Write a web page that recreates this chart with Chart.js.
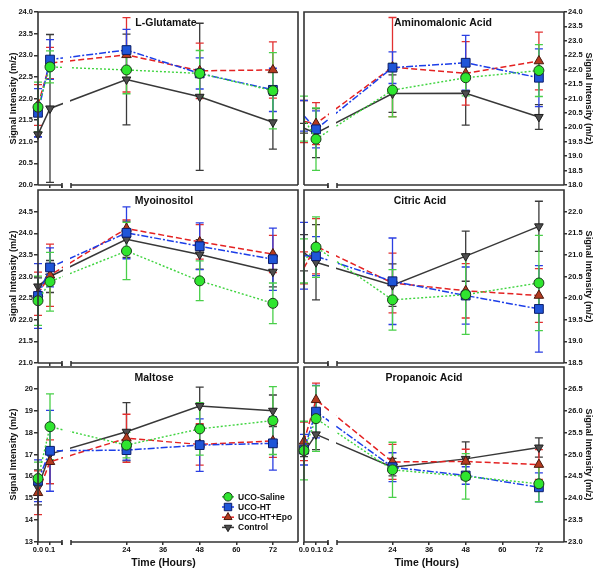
<!DOCTYPE html>
<html><head><meta charset="utf-8">
<script src="https://cdn.jsdelivr.net/npm/chart.js@4/dist/chart.umd.min.js"></script>
<style>
html,body{margin:0;padding:0;background:#fff;}
#wrap{position:relative;width:603px;height:579px;overflow:hidden;}
canvas{position:absolute;left:0;top:0;}
</style></head><body><div id="wrap">
<canvas id="c0" width="603" height="579"></canvas>
<canvas id="c1" width="603" height="579"></canvas>
<canvas id="c2" width="603" height="579"></canvas>
<canvas id="c3" width="603" height="579"></canvas>
<canvas id="c4" width="603" height="579"></canvas>
<canvas id="c5" width="603" height="579"></canvas>
</div>
<script>
// ---------------- DATA ----------------
const hours = [0, 0.1, 24, 48, 72];
const seriesNames = ['UCO-Saline', 'UCO-HT', 'UCO-HT+Epo', 'Control'];

// L-Glutamate
const gluSaline = [21.80, 22.73, 22.66, 22.58, 22.18];
const gluSalineSD = [0.58, 0.37, 0.55, 0.53, 0.88];
const gluHT = [21.67, 22.90, 23.12, 22.58, 22.20];
const gluHTSD = [0.56, 0.46, 0.48, 0.36, 0.50];
const gluEpo = [21.85, 22.82, 23.01, 22.64, 22.66];
const gluEpoSD = [0.47, 0.36, 0.86, 0.64, 0.65];
const gluCtrl = [21.17, 21.77, 22.44, 22.04, 21.45];
const gluCtrlSD = [0.05, 1.71, 1.05, 1.70, 0.62];

// Aminomalonic Acid
const amiSaline = [20.30, 19.59, 21.29, 21.72, 21.97];
const amiSalineSD = [0.78, 1.08, 0.93, 0.63, 0.90];
const amiHT = [20.40, 19.93, 22.07, 22.24, 21.72];
const amiHTSD = [0.53, 0.64, 0.55, 0.95, 1.00];
const amiEpo = [20.20, 20.13, 22.09, 21.87, 22.30];
const amiEpoSD = [0.73, 0.73, 1.72, 1.10, 1.00];
const amiCtrl = [19.97, 19.80, 21.17, 21.18, 20.36];
const amiCtrlSD = [0.17, 0.85, 0.65, 1.10, 0.43];

// Myoinositol
const myoSaline = [22.44, 22.88, 23.59, 22.90, 22.38];
const myoSalineSD = [0.57, 0.68, 0.66, 0.46, 0.47];
const myoHT = [22.55, 23.21, 24.01, 23.70, 23.40];
const myoHTSD = [0.75, 0.45, 0.60, 0.54, 0.72];
const myoEpo = [22.60, 23.03, 24.11, 23.80, 23.52];
const myoEpoSD = [0.50, 0.72, 0.20, 0.40, 0.43];
const myoCtrl = [22.77, 23.00, 23.86, 23.51, 23.11];
const myoCtrlSD = [0.20, 0.37, 0.42, 0.34, 0.35];

// Citric Acid
const citSaline = [20.86, 21.18, 19.96, 20.08, 20.35];
const citSalineSD = [0.51, 0.70, 0.70, 0.92, 1.10];
const citHT = [20.98, 20.97, 20.39, 20.06, 19.75];
const citHTSD = [0.77, 0.45, 1.00, 0.66, 1.00];
const citEpo = [20.70, 21.20, 20.35, 20.17, 20.06];
const citEpoSD = [0.37, 0.64, 0.69, 0.63, 0.62];
const citCtrl = [21.05, 20.83, 20.30, 20.97, 21.66];
const citCtrlSD = [0.42, 0.87, 0.49, 0.58, 0.58];

// Maltose
const malSaline = [15.90, 18.27, 17.43, 18.17, 18.55];
const malSalineSD = [0.75, 1.50, 0.58, 1.20, 1.55];
const malHT = [15.80, 17.17, 17.20, 17.43, 17.51];
const malHTSD = [0.95, 1.85, 0.46, 1.20, 1.22];
const malEpo = [15.25, 16.67, 17.74, 17.46, 17.62];
const malEpoSD = [1.00, 1.00, 1.10, 0.95, 0.75];
const malCtrl = [15.50, 17.02, 18.04, 19.22, 19.00];
const malCtrlSD = [0.80, 1.35, 1.33, 0.86, 0.72];

// Propanoic Acid
const proSaline = [25.09, 25.82, 24.65, 24.50, 24.33];
const proSalineSD = [0.67, 0.75, 0.63, 0.52, 0.41];
const proHT = [25.11, 25.98, 24.71, 24.52, 24.25];
const proHTSD = [0.35, 0.60, 0.33, 0.20, 0.33];
const proEpo = [25.30, 26.25, 24.83, 24.84, 24.77];
const proEpoSD = [0.44, 0.38, 0.40, 0.28, 0.34];
const proCtrl = [25.05, 25.46, 24.71, 24.90, 25.16];
const proCtrlSD = [0.10, 0.35, 0.20, 0.39, 0.22];

// x-axis tick hours / labels
const xTickHoursBottom = [0, 0.1, 0.2, 24, 36, 48, 60, 72];
const xTickLabelsBottomLeft = ['0.0', '0.1', '', '24', '36', '48', '60', '72'];
const xTickLabelsBottomRight = ['0.0', '0.1', '0.2', '24', '36', '48', '60', '72'];
const xTickHoursUpperLeft = [0.1, 0.2];
const xTickHoursUpperRight = [0.2];

// ---------------- STYLE / LAYOUT ----------------
const FONT = '"Liberation Sans", Arial, Helvetica, sans-serif';
Chart.defaults.font.family = FONT;
Chart.defaults.font.weight = 'bold';
Chart.defaults.color = '#111';

// broken time axis: hours -> axis units
function u(t) { return t <= 0.2 ? 120 * t : 88.5 + (t - 24) * 3.05; }
const SEG1_END = u(0.2), SEG2_START = 33, X_MAX = 260;

const styles = [
  {line:'#3fd43f', dash:[2,2], lw:1.4, shape:'circle', rot:0, r:5, fill:'#2fe52f', edge:'#1c3a1c', err:'#49cf49'},
  {line:'#1c3ee8', dash:[7,2,2,2], lw:1.5, shape:'rect', rot:0, r:6.2, fill:'#1f55d8', edge:'#0c1c6a', err:'#2b3fe2'},
  {line:'#e42222', dash:[6,3], lw:1.5, shape:'triangle', rot:0, r:5.5, fill:'#b43a1f', edge:'#4a1a0f', err:'#e23030'},
  {line:'#383838', dash:[], lw:1.5, shape:'triangle', rot:180, r:5, fill:'#4e4e4e', edge:'#1e1e1e', err:'#3a3a3a'}
];

const COLS = [{left:38, right:298, pos:'left', axisW:38, tick:4},
              {left:304, right:564, pos:'right', axisW:39, tick:3}];
const ROWS = [{top:12, bottom:185}, {top:190, bottom:363}, {top:367, bottom:542}];
const W = 603, H = 579;

const panels = [
  {canvas:'c0', name:'L-Glutamate', col:0, row:0, yMin:20, yMax:24, yTop:24, step:0.5, dec:1,
   means:[gluSaline, gluHT, gluEpo, gluCtrl], sds:[gluSalineSD, gluHTSD, gluEpoSD, gluCtrlSD], hideFirst:false, titleX:166},
  {canvas:'c1', name:'Aminomalonic Acid', col:1, row:0, yMin:18, yMax:24, yTop:24, step:0.5, dec:1,
   means:[amiSaline, amiHT, amiEpo, amiCtrl], sds:[amiSalineSD, amiHTSD, amiEpoSD, amiCtrlSD], hideFirst:true, titleX:443},
  {canvas:'c2', name:'Myoinositol', col:0, row:1, yMin:21, yMax:25, yTop:24.5, step:0.5, dec:1,
   means:[myoSaline, myoHT, myoEpo, myoCtrl], sds:[myoSalineSD, myoHTSD, myoEpoSD, myoCtrlSD], hideFirst:false, titleX:164},
  {canvas:'c3', name:'Citric Acid', col:1, row:1, yMin:18.5, yMax:22.5, yTop:22, step:0.5, dec:1,
   means:[citSaline, citHT, citEpo, citCtrl], sds:[citSalineSD, citHTSD, citEpoSD, citCtrlSD], hideFirst:true, titleX:420},
  {canvas:'c4', name:'Maltose', col:0, row:2, yMin:13, yMax:21, yTop:20, step:1, dec:0,
   means:[malSaline, malHT, malEpo, malCtrl], sds:[malSalineSD, malHTSD, malEpoSD, malCtrlSD], hideFirst:false, titleX:154,
   legend:{x:228, y:496.8, dy:10.2}, xTitle:{x:163.5, y:563}},
  {canvas:'c5', name:'Propanoic Acid', col:1, row:2, yMin:23, yMax:27, yTop:26.5, step:0.5, dec:1,
   means:[proSaline, proHT, proEpo, proCtrl], sds:[proSalineSD, proHTSD, proEpoSD, proCtrlSD], hideFirst:false, titleX:424,
   xTitle:{x:426.7, y:563}}
];

function drawMarker(ctx, st, x, y, r) {
  ctx.beginPath();
  if (st.shape === 'circle') {
    ctx.arc(x, y, r, 0, Math.PI * 2);
  } else if (st.shape === 'rect') {
    const s = r * Math.SQRT1_2;
    ctx.rect(x - s, y - s, 2 * s, 2 * s);
  } else {
    const d = st.rot ? -1 : 1;
    ctx.moveTo(x, y - r * d);
    ctx.lineTo(x + 0.866 * r, y + 0.5 * r * d);
    ctx.lineTo(x - 0.866 * r, y + 0.5 * r * d);
    ctx.closePath();
  }
  ctx.fillStyle = st.fill; ctx.fill();
  ctx.strokeStyle = st.edge; ctx.lineWidth = 1; ctx.stroke();
}

const errorBars = {
  id: 'errorBars',
  beforeDatasetsDraw(chart) {
    const ctx = chart.ctx, xs = chart.scales.x, ys = chart.scales.y;
    ctx.save();
    for (let i = chart.data.datasets.length - 1; i >= 0; i--) {
      const ds = chart.data.datasets[i];
      ctx.strokeStyle = ds.errColor; ctx.lineWidth = 1.3; ctx.setLineDash([]);
      ds.data.forEach((pt, k) => {
        const x = xs.getPixelForValue(pt.x);
        const y1 = ys.getPixelForValue(pt.y + ds.sd[k]);
        const y2 = ys.getPixelForValue(pt.y - ds.sd[k]);
        ctx.beginPath();
        ctx.moveTo(x, y1); ctx.lineTo(x, y2);
        ctx.moveTo(x - 4, y1); ctx.lineTo(x + 4, y1);
        ctx.moveTo(x - 4, y2); ctx.lineTo(x + 4, y2);
        ctx.stroke();
      });
    }
    ctx.restore();
  }
};

const frame = {
  id: 'frame',
  afterDatasetsDraw(chart) {
    const ctx = chart.ctx, a = chart.chartArea, xs = chart.scales.x;
    const g1 = xs.getPixelForValue(SEG1_END), g2 = xs.getPixelForValue(SEG2_START);
    ctx.save();
    ctx.fillStyle = '#fff';
    ctx.fillRect(g1 + 1, a.top + 1, g2 - g1 - 2, a.bottom - a.top - 2);
    ctx.restore();
  },
  afterDraw(chart, args, opts) {
    const ctx = chart.ctx, a = chart.chartArea, xs = chart.scales.x;
    const p = opts.panel;
    const g1 = xs.getPixelForValue(SEG1_END), g2 = xs.getPixelForValue(SEG2_START);
    ctx.save();
    ctx.strokeStyle = '#333'; ctx.lineWidth = 1.6; ctx.setLineDash([]);
    ctx.beginPath();
    ctx.moveTo(a.left, a.bottom); ctx.lineTo(a.left, a.top); ctx.lineTo(a.right, a.top); ctx.lineTo(a.right, a.bottom);
    ctx.moveTo(a.left, a.bottom); ctx.lineTo(g1, a.bottom);
    ctx.moveTo(g2, a.bottom); ctx.lineTo(a.right, a.bottom);
    ctx.moveTo(g1, a.bottom - 2); ctx.lineTo(g1, a.bottom + 3);
    ctx.moveTo(g2, a.bottom - 2); ctx.lineTo(g2, a.bottom + 3);
    ctx.stroke();
    // panel title
    ctx.fillStyle = '#111';
    ctx.font = 'bold 10.5px ' + FONT;
    ctx.textAlign = 'center'; ctx.textBaseline = 'middle';
    ctx.fillText(p.name, p.titleX, a.top + 11);
    // x-axis title
    if (p.xTitle) {
      ctx.font = 'bold 10.5px ' + FONT;
      ctx.fillText('Time (Hours)', p.xTitle.x, p.xTitle.y);
    }
    // legend
    if (p.legend) {
      ctx.font = 'bold 8.5px ' + FONT;
      ctx.textAlign = 'left';
      chart.data.datasets.forEach((ds, i) => {
        const st = styles[i];
        const y = p.legend.y + i * p.legend.dy;
        ctx.strokeStyle = st.line; ctx.lineWidth = 1.5;
        ctx.beginPath(); ctx.moveTo(p.legend.x - 6, y); ctx.lineTo(p.legend.x + 6, y); ctx.stroke();
        drawMarker(ctx, st, p.legend.x, y, st.r * 0.85);
        ctx.fillStyle = '#111';
        ctx.fillText(ds.label, p.legend.x + 10, y + 0.5);
      });
    }
    ctx.restore();
  }
};

panels.forEach(p => {
  const col = COLS[p.col], row = ROWS[p.row];
  const bottomRow = p.row === 2;
  const xh = bottomRow ? H - row.bottom : 5;
  const tickHours = bottomRow ? xTickHoursBottom : (p.col === 0 ? xTickHoursUpperLeft : xTickHoursUpperRight);
  const tickLabels = bottomRow ? (p.col === 0 ? xTickLabelsBottomLeft : xTickLabelsBottomRight) : tickHours.map(() => '');
  const datasets = styles.map((st, i) => ({
    label: seriesNames[i],
    data: hours.map((h, k) => ({x: u(h), y: p.means[i][k]})),
    sd: p.sds[i],
    errColor: st.err,
    borderColor: st.line,
    borderDash: st.dash,
    borderWidth: st.lw,
    pointStyle: st.shape,
    pointRotation: st.rot,
    pointRadius: hours.map((h, k) => (p.hideFirst && k === 0) ? 0 : st.r),
    pointBackgroundColor: st.fill,
    pointBorderColor: st.edge,
    pointBorderWidth: 1,
    tension: 0,
    fill: false,
    clip: false
  }));
  new Chart(document.getElementById(p.canvas), {
    type: 'line',
    data: {datasets},
    options: {
      responsive: false, animation: false, devicePixelRatio: 1, events: [],
      layout: {padding: {
        left: p.col === 0 ? 0 : col.left,
        right: p.col === 0 ? W - col.right : 0,
        top: row.top,
        bottom: H - row.bottom - xh
      }},
      plugins: {legend: {display: false}, tooltip: {enabled: false}, frame: {panel: p}},
      scales: {
        x: {
          type: 'linear', min: 0, max: X_MAX,
          afterFit: s => { s.height = xh; },
          afterBuildTicks: s => { s.ticks = tickHours.map(h => ({value: u(h)})); },
          ticks: {callback: (v, i) => tickLabels[i], font: {size: 7.5, weight: 'bold'}, color: '#111',
                  padding: 0.5, maxRotation: 0, minRotation: 0, autoSkip: false},
          grid: {drawOnChartArea: false, drawTicks: true, tickLength: 3, color: '#333', lineWidth: 1.5},
          border: {display: false}
        },
        y: {
          type: 'linear', position: col.pos, min: p.yMin, max: p.yMax,
          afterFit: s => { s.width = col.axisW; },
          afterBuildTicks: s => { s.ticks = s.ticks.filter(t => t.value <= p.yTop + 1e-9); },
          ticks: {stepSize: p.step, callback: v => Number(v).toFixed(p.dec), font: {size: 7.5, weight: 'bold'},
                  color: '#111', padding: 1, autoSkip: false},
          grid: {drawOnChartArea: false, drawTicks: true, tickLength: col.tick, color: '#333', lineWidth: 1.5},
          border: {display: false},
          title: {display: true, text: 'Signal Intensity (m/z)', font: {size: 9.2, weight: 'bold'}, color: '#111',
                  padding: {top: p.col === 0 ? 7.8 : 8.5, bottom: 0}}
        }
      }
    },
    plugins: [errorBars, frame]
  });
});
</script>
</body></html>
